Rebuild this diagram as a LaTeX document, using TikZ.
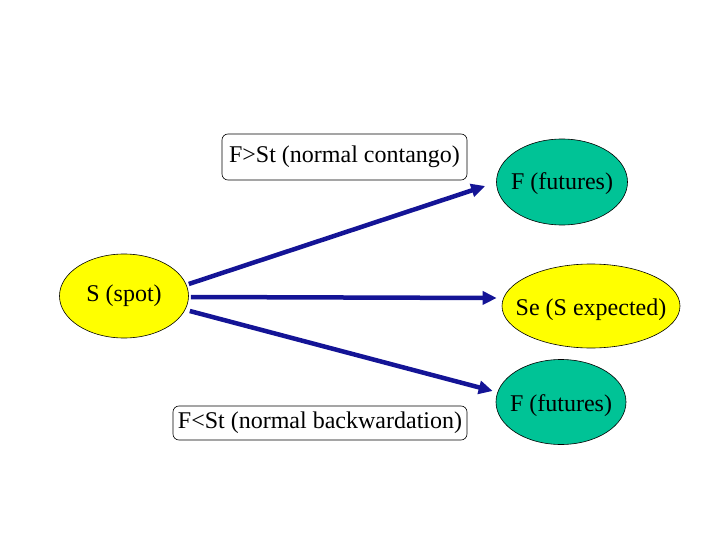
\documentclass[tikz,border=0pt]{standalone}
\usepackage{fontspec}
\setmainfont{Liberation Serif}
\usetikzlibrary{shapes.geometric,arrows.meta}
\definecolor{arrowblue}{RGB}{20,20,150}
\definecolor{spotyellow}{RGB}{255,255,0}
\definecolor{futteal}{RGB}{0,195,150}
\tikzset{
  oval/.style={ellipse,draw=black,line width=0.6pt,inner xsep=-35pt,inner ysep=0pt,font=\fontsize{24}{28}\selectfont},
  labelbox/.style={draw=black,rounded corners=6pt,line width=0.6pt,inner sep=2pt,font=\fontsize{24}{28}\selectfont},
  flow/.style={draw=arrowblue,line width=4.5pt,-{Triangle[length=14pt,width=13pt]}}
}
\begin{document}
\begin{tikzpicture}[x=1pt,y=-1pt]
\useasboundingbox (0,0) rectangle (720,540);
\node[oval,fill=spotyellow,minimum width=129pt,minimum height=84pt] (S) at (124,296) {S (spot)};
\node[oval,fill=futteal,minimum width=131pt,minimum height=86pt] (F1) at (562,182) {\raisebox{-2pt}[\height][\depth]{F (futures)}};
\node[oval,fill=spotyellow,minimum width=178pt,minimum height=84pt] (Se) at (591,306) {\raisebox{-4pt}[\height][\depth]{Se (S expected)}};
\node[oval,fill=futteal,minimum width=130pt,minimum height=85pt] (F2) at (561,402) {\raisebox{-4pt}[\height][\depth]{F (futures)}};
\node[labelbox,minimum width=245pt,minimum height=46pt] (L1) at (344.5,157) {F>St (normal contango)};
\node[labelbox,minimum width=294pt,minimum height=34pt] (L2) at (320,423) {F<St (normal backwardation)};
\draw[flow] ([yshift=12pt]S.east) -- ([xshift=-11pt,yshift=-4pt]F1.west);
\draw[flow] ([xshift=2pt,yshift=-1pt]S.east) -- ([xshift=-5pt,yshift=8pt]Se.west);
\draw[flow] ([xshift=1pt,yshift=-15pt]S.east) -- ([xshift=-3pt,yshift=11pt]F2.west);
\end{tikzpicture}
\end{document}
